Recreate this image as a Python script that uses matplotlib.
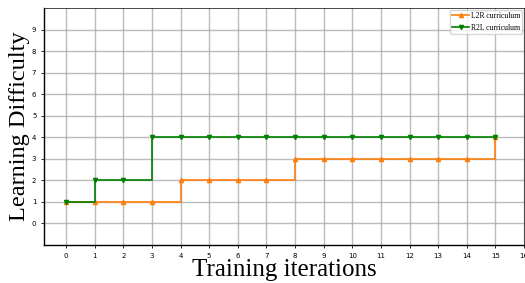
import matplotlib
matplotlib.use("Agg")
import matplotlib.pyplot as plt
import numpy as np

iterations = list(range(16))
l2r = [1, 1, 1, 1, 2, 2, 2, 2, 3, 3, 3, 3, 3, 3, 3, 4]
r2l = [1, 2, 2, 4, 4, 4, 4, 4, 4, 4, 4, 4, 4, 4, 4, 4]
xticks = list(range(17))
yticks = list(range(10))

fig = plt.figure(figsize=(5.25, 2.83), dpi=100)
ax = fig.add_axes([44/525, 1-245/283, 480/525, 237/283])

ax.step(iterations, l2r, where='post', color='#ff7f0e', marker='^', markersize=3,
        linewidth=1.2, label='L2R curriculum')
ax.step(iterations, r2l, where='post', color='green', marker='v', markersize=3,
        linewidth=1.2, label='R2L curriculum')

ax.set_xlim(-0.77, 16)
ax.set_ylim(-1, 10)
ax.set_xticks(xticks)
ax.set_yticks(yticks)
ax.tick_params(labelsize=5, length=2, width=0.6)
ax.grid(True, color='#aaaaaa', linewidth=1.0, alpha=0.8)
ax.set_axisbelow(True)

serif = ['Liberation Serif', 'DejaVu Serif']
ax.set_xlabel('Training iterations', fontsize=18, family=serif, labelpad=0)
ax.set_ylabel('Learning Difficulty', fontsize=17.5, family=serif, labelpad=1.5)
ax.legend(loc='upper right', prop={'family': serif, 'size': 5.5}, framealpha=0.8,
          borderpad=0.3, handlelength=2.2, handletextpad=0.2, borderaxespad=0.2)

for s in ['left', 'bottom']:
    ax.spines[s].set_linewidth(1.0)
for s in ['top', 'right']:
    ax.spines[s].set_linewidth(0.5)

fig.savefig('out.png', dpi=100)
